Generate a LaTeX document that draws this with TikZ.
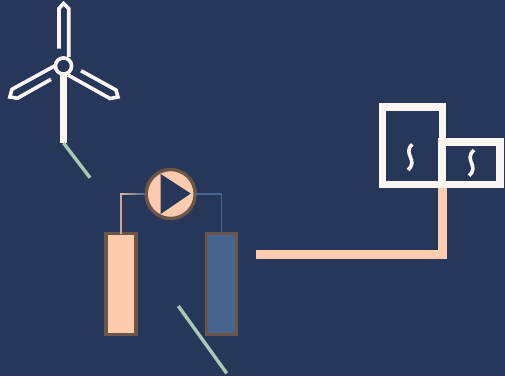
\documentclass[tikz,border=0pt]{standalone}
\definecolor{bgnavy}{HTML}{27375A}
\definecolor{peach}{HTML}{FFCBAE}
\definecolor{steel}{HTML}{46658F}
\definecolor{umber}{HTML}{6B5548}
\definecolor{offwhite}{HTML}{FCF6F3}
\definecolor{sage}{HTML}{A9C9B4}
\tikzset{
  tank/.style={draw=umber, line width=3.4pt, minimum width=30pt, minimum height=101pt, outer sep=0pt, inner sep=0pt},
  heatbox/.style={draw=offwhite, line width=7.5pt, outer sep=0pt, inner sep=0pt},
  blade/.style={draw=offwhite, line width=3.6pt, line join=miter},
  lead/.style={draw=sage, line width=3.4pt},
  wave/.style={draw=offwhite, line width=3.6pt},
}
\begin{document}
\begin{tikzpicture}[x=1pt, y=-1pt]
  \useasboundingbox (0,0) rectangle (505,376);
  \fill[bgnavy] (0,0) rectangle (505,376);
  % wind turbine
  \draw[blade] (59,48.7) -- (59,8.5) -- (63.5,3.5) -- (68.7,8.5) -- (68.7,57);
  \draw[blade] (55,65.7) -- (12,89.3) -- (9.8,97) -- (17.5,98.2) -- (51,79.3);
  \draw[blade] (81,70.7) -- (116,90) -- (118,97) -- (110,98.5) -- (68,75);
  \fill[offwhite] (60.4,75) rectangle (67.2,143.2);
  \node[circle, draw=offwhite, fill=bgnavy, line width=3.6pt, minimum size=16.2pt, inner sep=0pt, outer sep=0pt] (hub) at (63.5,66) {};
  \coordinate (towerbase) at (63.5,143);
  \coordinate (towerlead) at (90,177.7);
  \draw[lead] (towerbase) -- (towerlead);
  % storage and pump
  \node[tank, fill=peach] (hottank) at (121,284) {};
  \node[tank, fill=steel] (coldtank) at (221.3,284) {};
  \node[circle, draw=umber, fill=peach, line width=3.4pt, minimum size=49pt, inner sep=0pt, outer sep=0pt] (pump) at (170.7,194) {};
  \fill[bgnavy] (160.7,174) -- (190.7,193.5) -- (160.7,214) -- cycle;
  \draw[line width=1.4pt, color=peach!75!bgnavy] (hottank.north) |- (pump.west);
  \shade[left color=peach!85!bgnavy, right color=steel] (120.3,193.3) rectangle (146,194.7);
  \draw[line width=1.4pt, color=steel] (coldtank.north) |- (pump.east);
  \coordinate (packa) at (178.3,306);
  \coordinate (packb) at (226.7,373.3);
  \draw[lead] (packa) -- (packb);
  % exchanger boxes
  \node[heatbox, minimum width=59.8pt, minimum height=77.8pt] (bigbox) at (412.4,145.7) {};
  \node[heatbox, minimum width=57.8pt, minimum height=42.8pt] (smallbox) at (471.1,163.2) {};
  \coordinate (pipeend) at (256,254);
  \draw[peach, line width=9pt] (pipeend) -| ([yshift=-3.75pt]bigbox.south east);
  \draw[wave] (412.3,144.3) .. controls (402,154) and (419,160) .. (408,170);
  \draw[wave] (474,150) .. controls (463,160) and (480,166) .. (469,175.7);
\end{tikzpicture}
\end{document}
